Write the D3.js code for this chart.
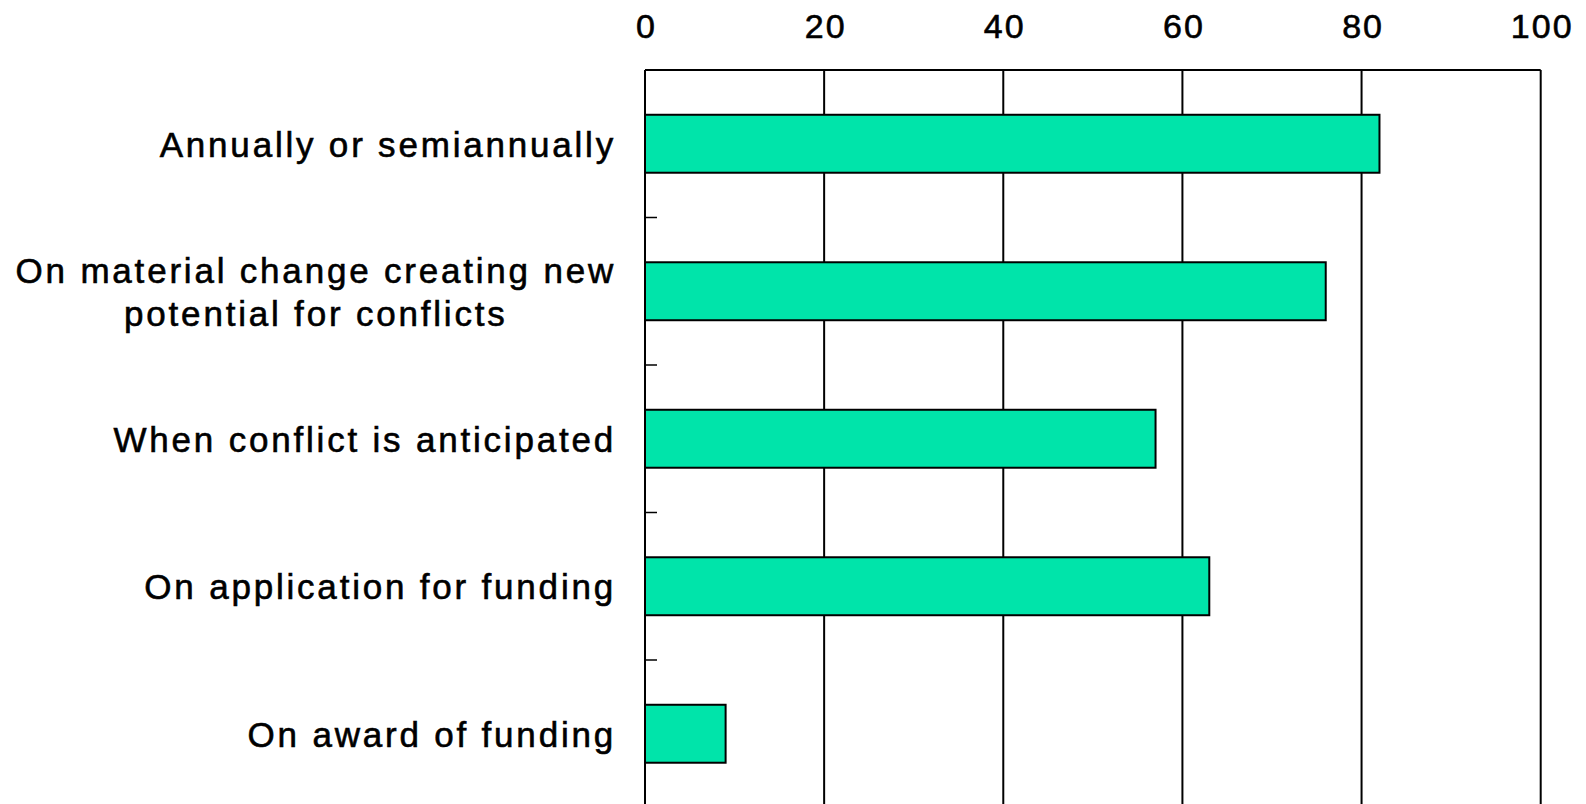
<!DOCTYPE html>
<html>
<head>
<meta charset="utf-8">
<script src="https://cdn.jsdelivr.net/npm/d3@7"></script>
<style>
  body { margin: 0; background: #fff; }
  svg text { font-family: "Liberation Sans", Arial, sans-serif; fill: #000; stroke: #000; stroke-width: 0.6px; }
</style>
</head>
<body>
<div class="chart"></div>
<script>
var width = 1586;
var height = 804;

// data
var categories = [
    ["Annually or semiannually"],
    ["On material change creating new", "potential for conflicts"],
    ["When conflict is anticipated"],
    ["On application for funding"],
    ["On award of funding"]
];
var values = [82, 76, 57, 63, 9];
var xTicks = [0, 20, 40, 60, 80, 100];

var plotLeft = 645, plotRight = 1540.7, plotTop = 70, plotBottom = 807.5;
var lineGap = 43.4;

var x = d3.scaleLinear().domain([0, 100]).range([plotLeft, plotRight]);
var y = d3.scaleBand()
    .domain(d3.range(categories.length))
    .range([plotTop, plotBottom])
    .paddingInner(0.607)
    .paddingOuter(0.3035);

var svg = d3.select(".chart").append("svg")
    .attr("width", width)
    .attr("height", height);

// vertical grid lines + frame top
svg.append("g")
    .attr("class", "grid")
    .selectAll("line")
    .data(xTicks.slice(1))
    .enter().append("line")
    .attr("x1", function(d){ return x(d); })
    .attr("x2", function(d){ return x(d); })
    .attr("y1", plotTop)
    .attr("y2", plotBottom)
    .attr("stroke", "#000")
    .attr("stroke-width", 2);

svg.append("line")
    .attr("x1", plotLeft).attr("x2", plotRight)
    .attr("y1", plotTop).attr("y2", plotTop)
    .attr("stroke", "#000").attr("stroke-width", 2);

// top axis with labels only
var xAxis = d3.axisTop(x).tickValues(xTicks).tickSize(0).tickPadding(0);
var gx = svg.append("g")
    .attr("transform", "translate(0,37.5)")
    .call(xAxis);
gx.select(".domain").remove();
gx.selectAll("text")
    .attr("dy", 0)
    .attr("dx", "1px")
    .style("font-size", "34px")
    .style("letter-spacing", "2px");

// bars
svg.selectAll(".bar")
    .data(values)
    .enter().append("rect")
    .attr("class", "bar")
    .attr("x", x(0))
    .attr("y", function(d, i){ return y(i); })
    .attr("width", function(d){ return x(d) - x(0); })
    .attr("height", y.bandwidth())
    .attr("fill", "#00e4aa")
    .attr("stroke", "#000")
    .attr("stroke-width", 2);

// left axis: line + small ticks at band boundaries
var bounds = d3.range(categories.length).map(function(i){ return y(i) - (y.step() - y.bandwidth()) / 2; });
svg.append("line")
    .attr("x1", plotLeft).attr("x2", plotLeft)
    .attr("y1", plotTop).attr("y2", plotBottom)
    .attr("stroke", "#000").attr("stroke-width", 2);
svg.selectAll(".ytick")
    .data(bounds)
    .enter().append("line")
    .attr("class", "ytick")
    .attr("x1", plotLeft).attr("x2", plotLeft + 12)
    .attr("y1", function(d){ return d; })
    .attr("y2", function(d){ return d; })
    .attr("stroke", "#000").attr("stroke-width", 1.5);

// category labels, each block right aligned, lines centred inside it
var labelRight = 616;
var lab = svg.selectAll(".label")
    .data(categories)
    .enter().append("g")
    .attr("class", "label");
lab.each(function(lines, i){
    var g = d3.select(this);
    var cy = y(i) + y.bandwidth() / 2 + 13;
    var texts = g.selectAll("text")
        .data(lines)
        .enter().append("text")
        .attr("y", function(d, j){ return cy + (j - (lines.length - 1) / 2) * lineGap; })
        .style("font-size", "35px")
        .style("letter-spacing", "2.8px")
        .attr("text-anchor", "middle")
        .text(function(d){ return d; });
    var maxW = 0;
    texts.each(function(){ maxW = Math.max(maxW, this.getComputedTextLength()); });
    texts.attr("x", labelRight - maxW / 2);
});
</script>
</body>
</html>
